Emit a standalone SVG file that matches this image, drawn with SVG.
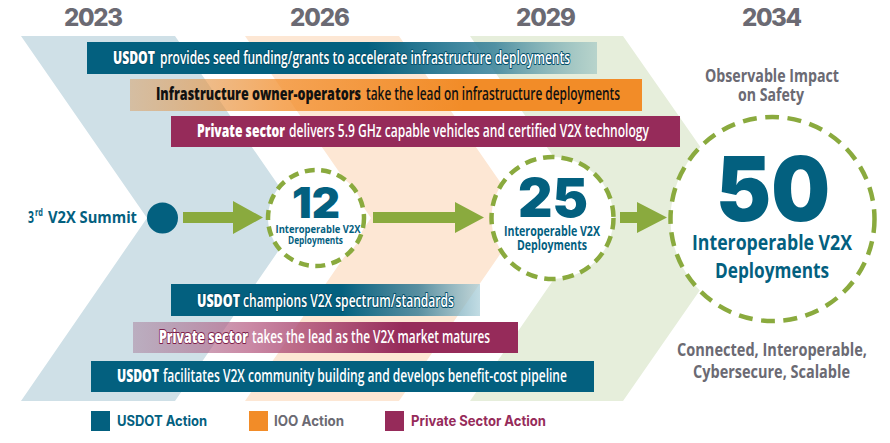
<svg xmlns="http://www.w3.org/2000/svg" width="890" height="443" viewBox="0 0 890 443">
<defs>
<style>
.year{font-family:Inter,"Noto Sans",sans-serif;font-weight:800;font-size:24px;fill:#6b6a73;text-anchor:middle}
.bar{font-family:"Open Sans","Noto Sans",sans-serif;font-size:18px;font-weight:600}
.b{font-weight:800}
.wout{fill:#fff;stroke:#03506b;stroke-width:2.2;paint-order:stroke;stroke-linejoin:round}
.pout{fill:#fff;stroke:#7e1f4a;stroke-width:2;paint-order:stroke;stroke-linejoin:round}
.num{font-family:Inter,Lato,sans-serif;font-weight:900;fill:#03607f;text-anchor:middle}
.lbl{font-family:"Open Sans","Noto Sans",sans-serif;font-weight:700;fill:#03607f;text-anchor:middle}
.grey{font-family:"Open Sans","Noto Sans",sans-serif;font-weight:700;fill:#6b6a73;text-anchor:middle;font-size:17px}
.dash{fill:#fff;stroke:#8aaa3e;stroke-width:4.5}
.arrow{fill:#8aaa3e}
.leg{font-family:Inter,"Noto Sans",sans-serif;font-weight:700;font-size:14px}
.sum{font-family:"Open Sans","Noto Sans",sans-serif;font-weight:700;fill:#03607f}
</style>
<linearGradient id="gBlue1" x1="87" x2="597" y1="0" y2="0" gradientUnits="userSpaceOnUse">
<stop offset="0" stop-color="#03607f"/>
<stop offset="0.55" stop-color="#03607f"/>
<stop offset="0.8" stop-color="#2b7a95" stop-opacity="0.8"/>
<stop offset="1" stop-color="#7fb3b8" stop-opacity="0.45"/>
</linearGradient>
<linearGradient id="gOrange" x1="130" x2="642" y1="0" y2="0" gradientUnits="userSpaceOnUse">
<stop offset="0" stop-color="#d9a26a" stop-opacity="0.55"/>
<stop offset="0.3" stop-color="#f28c28" stop-opacity="0.75"/>
<stop offset="0.65" stop-color="#f28c28"/>
<stop offset="1" stop-color="#f28c28"/>
</linearGradient>
<linearGradient id="gBlue4" x1="171" x2="480" y1="0" y2="0" gradientUnits="userSpaceOnUse">
<stop offset="0" stop-color="#03607f"/>
<stop offset="0.55" stop-color="#03607f"/>
<stop offset="0.8" stop-color="#3b7f97" stop-opacity="0.85"/>
<stop offset="1" stop-color="#a7cdd8" stop-opacity="0.7"/>
</linearGradient>
<linearGradient id="gPriv" x1="133" x2="518" y1="0" y2="0" gradientUnits="userSpaceOnUse">
<stop offset="0" stop-color="#a27190" stop-opacity="0.45"/>
<stop offset="0.3" stop-color="#b4577f" stop-opacity="0.7"/>
<stop offset="0.7" stop-color="#962b5a"/>
<stop offset="1" stop-color="#962b5a"/>
</linearGradient>
</defs>
<rect width="890" height="443" fill="#fff"/>

<g id="background">
<polygon points="21,36 175,36 301,218 175,401 21,401 147,218" fill="#cfe0e7"/>
<polygon points="245,36 399,36 525,218 399,401 245,401 371,218" fill="#fde7d4"/>
<polygon points="470,36 623,36 750,218 623,401 470,401 596,218" fill="#e6eedb"/>
</g>

<g id="years">
<text class="year" x="93.5" y="26" textLength="59">2023</text>
<text class="year" x="320" y="26" textLength="60">2026</text>
<text class="year" x="546" y="26" textLength="60">2029</text>
<text class="year" x="772" y="26" textLength="60">2034</text>
</g>

<g id="bar-usdot-seed">
<rect x="87" y="42" width="510" height="32" fill="url(#gBlue1)"/>
<text class="bar b wout" transform="translate(113,64) scale(0.65,1)" textLength="64.6" lengthAdjust="spacingAndGlyphs">USDOT</text>
<text class="bar wout" transform="translate(160,64) scale(0.65,1)" textLength="630.8" lengthAdjust="spacingAndGlyphs">provides seed funding/grants to accelerate infrastructure deployments</text>
</g>
<g id="bar-ioo-lead">
<rect x="130" y="79" width="512" height="32" fill="url(#gOrange)"/>
<text class="bar b" fill="#111" transform="translate(156,100) scale(0.65,1)" textLength="315.4" lengthAdjust="spacingAndGlyphs">Infrastructure owner-operators</text>
<text class="bar" fill="#111" transform="translate(366,100) scale(0.65,1)" textLength="390.8" lengthAdjust="spacingAndGlyphs">take the lead on infrastructure deployments</text>
</g>
<g id="bar-private-delivers">
<rect x="171" y="116" width="509" height="31" fill="#962b5a"/>
<text class="bar b" fill="#fff" transform="translate(197,137) scale(0.65,1)" textLength="135.4" lengthAdjust="spacingAndGlyphs">Private sector</text>
<text class="bar" fill="#fff" transform="translate(289,137) scale(0.65,1)" textLength="553.8" lengthAdjust="spacingAndGlyphs">delivers 5.9 GHz capable vehicles and certified V2X technology</text>
</g>

<g id="connectors">
<polygon class="arrow" points="183,212 233,212 233,201 263,217.5 233,234 233,223 183,223"/>
<polygon class="arrow" points="373,212 455,212 455,202 484,217.5 455,233 455,223 373,223"/>
<polygon class="arrow" points="620,212 637,212 637,202 667,217.5 637,233 637,223 620,223"/>
</g>

<g id="summit">
<text class="sum" x="28" y="223" font-size="16.5" textLength="6" lengthAdjust="spacingAndGlyphs">3</text>
<text class="sum" x="35" y="216" font-size="10" textLength="8" lengthAdjust="spacingAndGlyphs">rd</text>
<text class="sum" font-size="16.5" transform="translate(48,223) scale(0.87,1)" textLength="102.3" lengthAdjust="spacingAndGlyphs">V2X Summit</text>
<circle cx="162.5" cy="218" r="15.5" fill="#03607f"/>
</g>

<g id="node-12">
<circle class="dash" cx="316" cy="218" r="48" stroke-dasharray="10 6.5" stroke-width="4"/>
<text class="num" x="316" y="218" font-size="42" textLength="48" lengthAdjust="spacingAndGlyphs">12</text>
<text class="lbl" font-size="10.5" transform="translate(318,232.5) scale(0.75,1)" textLength="113.3" lengthAdjust="spacingAndGlyphs">Interoperable V2X</text>
<text class="lbl" font-size="10.5" transform="translate(315.5,243.5) scale(0.75,1)" textLength="73.3" lengthAdjust="spacingAndGlyphs">Deployments</text>
</g>

<g id="node-25">
<circle class="dash" cx="552.5" cy="218" r="61" stroke-dasharray="11.5 7"/>
<text class="num" x="553" y="217" font-size="54" textLength="70" lengthAdjust="spacingAndGlyphs">25</text>
<text class="lbl" font-size="13.5" transform="translate(552,236) scale(0.75,1)" textLength="128" lengthAdjust="spacingAndGlyphs">Interoperable V2X</text>
<text class="lbl" font-size="13.5" transform="translate(552,250) scale(0.75,1)" textLength="93.3" lengthAdjust="spacingAndGlyphs">Deployments</text>
</g>

<g id="node-50">
<circle class="dash" cx="772.5" cy="219" r="102" stroke-dasharray="14 8.5" stroke-width="5"/>
<text class="num" x="773" y="221" font-size="90" textLength="114" lengthAdjust="spacingAndGlyphs">50</text>
<text class="lbl" font-size="22" transform="translate(772,250) scale(0.75,1)" textLength="213.3" lengthAdjust="spacingAndGlyphs">Interoperable V2X</text>
<text class="lbl" font-size="22" transform="translate(772,278) scale(0.75,1)" textLength="152" lengthAdjust="spacingAndGlyphs">Deployments</text>
</g>

<g id="impact">
<text class="grey" transform="translate(772,82) scale(0.75,1)" textLength="178.7" lengthAdjust="spacingAndGlyphs">Observable Impact</text>
<text class="grey" transform="translate(771,101) scale(0.75,1)" textLength="88" lengthAdjust="spacingAndGlyphs">on Safety</text>
</g>
<g id="qualities">
<text class="grey" font-size="18" transform="translate(772,356) scale(0.75,1)" textLength="253.3" lengthAdjust="spacingAndGlyphs">Connected, Interoperable,</text>
<text class="grey" font-size="18" transform="translate(771.5,378) scale(0.75,1)" textLength="209.3" lengthAdjust="spacingAndGlyphs">Cybersecure, Scalable</text>
</g>

<g id="bar-usdot-spectrum">
<rect x="171" y="284" width="309" height="32" fill="url(#gBlue4)"/>
<text class="bar b wout" transform="translate(197,307) scale(0.65,1)" textLength="66.2" lengthAdjust="spacingAndGlyphs">USDOT</text>
<text class="bar wout" transform="translate(243,307) scale(0.65,1)" textLength="324.6" lengthAdjust="spacingAndGlyphs">champions V2X spectrum/standards</text>
</g>
<g id="bar-private-lead">
<rect x="133" y="322" width="385" height="31" fill="url(#gPriv)"/>
<text class="bar b pout" transform="translate(159,343) scale(0.65,1)" textLength="136.9" lengthAdjust="spacingAndGlyphs">Private sector</text>
<text class="bar" fill="#fff" transform="translate(252,343) scale(0.65,1)" textLength="366.2" lengthAdjust="spacingAndGlyphs">takes the lead as the V2X market matures</text>
</g>
<g id="bar-usdot-community">
<rect x="91" y="361" width="503" height="31" fill="#03607f"/>
<text class="bar b" fill="#fff" transform="translate(117,382) scale(0.65,1)" textLength="64.6" lengthAdjust="spacingAndGlyphs">USDOT</text>
<text class="bar" fill="#fff" transform="translate(163,382) scale(0.65,1)" textLength="621.5" lengthAdjust="spacingAndGlyphs">facilitates V2X community building and develops benefit-cost pipeline</text>
</g>

<g id="legend">
<rect x="91" y="411" width="19" height="20" fill="#03607f"/>
<text class="leg" fill="#03607f" transform="translate(117,426) scale(0.8,1)" textLength="112.5" lengthAdjust="spacingAndGlyphs">USDOT Action</text>
<rect x="249" y="411" width="19" height="20" fill="#f28c28"/>
<text class="leg" fill="#6b6a73" transform="translate(274,426) scale(0.8,1)" textLength="87.5" lengthAdjust="spacingAndGlyphs">IOO Action</text>
<rect x="385" y="411" width="19" height="20" fill="#962b5a"/>
<text class="leg" fill="#962b5a" transform="translate(411,426) scale(0.8,1)" textLength="168.75" lengthAdjust="spacingAndGlyphs">Private Sector Action</text>
</g>
</svg>
